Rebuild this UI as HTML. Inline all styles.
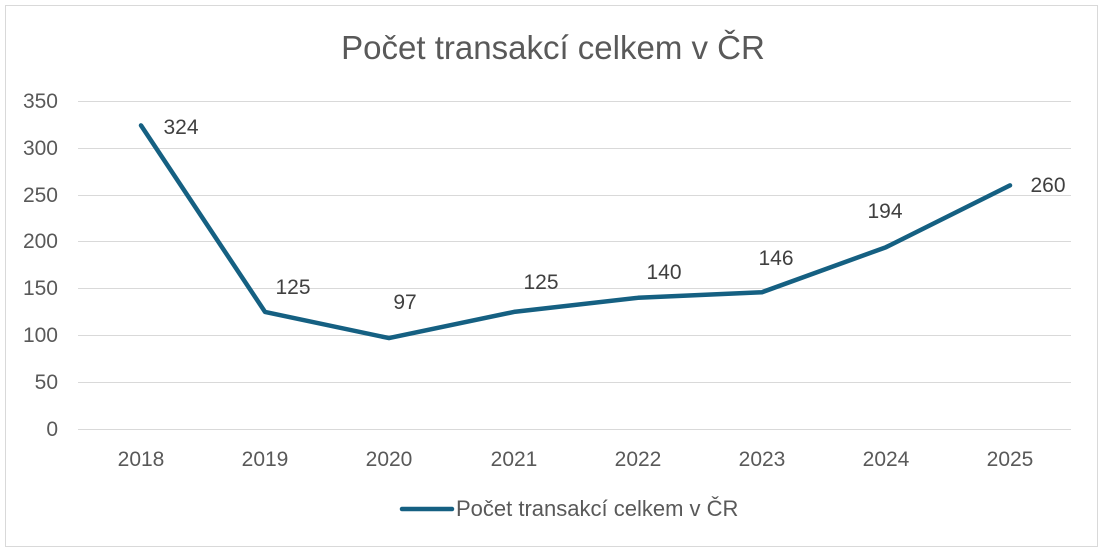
<!DOCTYPE html>
<html><head><meta charset="utf-8"><style>
html,body{margin:0;padding:0;background:#fff;}
svg{display:block;font-family:"Liberation Sans",sans-serif;}
</style></head><body>
<svg width="1103" height="552" viewBox="0 0 1103 552">
<rect x="5.5" y="5.5" width="1092" height="541" fill="#fff" stroke="#d9d9d9"/>
<text x="553" y="59" text-anchor="middle" font-size="33" fill="#595959">Počet transakcí celkem v ČR</text>
<g stroke="#d9d9d9" stroke-width="1">
<line x1="78" x2="1071" y1="101.5" y2="101.5"/>
<line x1="78" x2="1071" y1="148.5" y2="148.5"/>
<line x1="78" x2="1071" y1="195.5" y2="195.5"/>
<line x1="78" x2="1071" y1="241.5" y2="241.5"/>
<line x1="78" x2="1071" y1="288.5" y2="288.5"/>
<line x1="78" x2="1071" y1="335.5" y2="335.5"/>
<line x1="78" x2="1071" y1="382.5" y2="382.5"/>
<line x1="78" x2="1071" y1="429.5" y2="429.5"/>
</g>
<g font-size="21" fill="#595959" text-anchor="end">
<text x="58" y="108">350</text>
<text x="58" y="155">300</text>
<text x="58" y="202">250</text>
<text x="58" y="248">200</text>
<text x="58" y="295">150</text>
<text x="58" y="342">100</text>
<text x="58" y="389">50</text>
<text x="58" y="436">0</text>
</g>
<g font-size="21" fill="#595959" text-anchor="middle">
<text x="141" y="466">2018</text>
<text x="265" y="466">2019</text>
<text x="389" y="466">2020</text>
<text x="514" y="466">2021</text>
<text x="638" y="466">2022</text>
<text x="762" y="466">2023</text>
<text x="886" y="466">2024</text>
<text x="1010" y="466">2025</text>
</g>
<polyline fill="none" stroke="#156082" stroke-width="4.5" stroke-linejoin="round" stroke-linecap="round"
points="141,125.4 265,311.9 389,338.1 514,311.9 638,297.8 762,292.2 886,247.2 1010,185.4"/>
<g font-size="21" fill="#404040" text-anchor="middle">
<text x="181" y="134">324</text>
<text x="293" y="294">125</text>
<text x="405" y="309">97</text>
<text x="541" y="289">125</text>
<text x="664" y="279">140</text>
<text x="776" y="265">146</text>
<text x="885" y="218">194</text>
<text x="1048" y="192">260</text>
</g>
<line x1="402" x2="452" y1="509" y2="509" stroke="#156082" stroke-width="4.5" stroke-linecap="round"/>
<text x="456" y="516" font-size="22" fill="#595959">Počet transakcí celkem v ČR</text>
</svg>
</body></html>
